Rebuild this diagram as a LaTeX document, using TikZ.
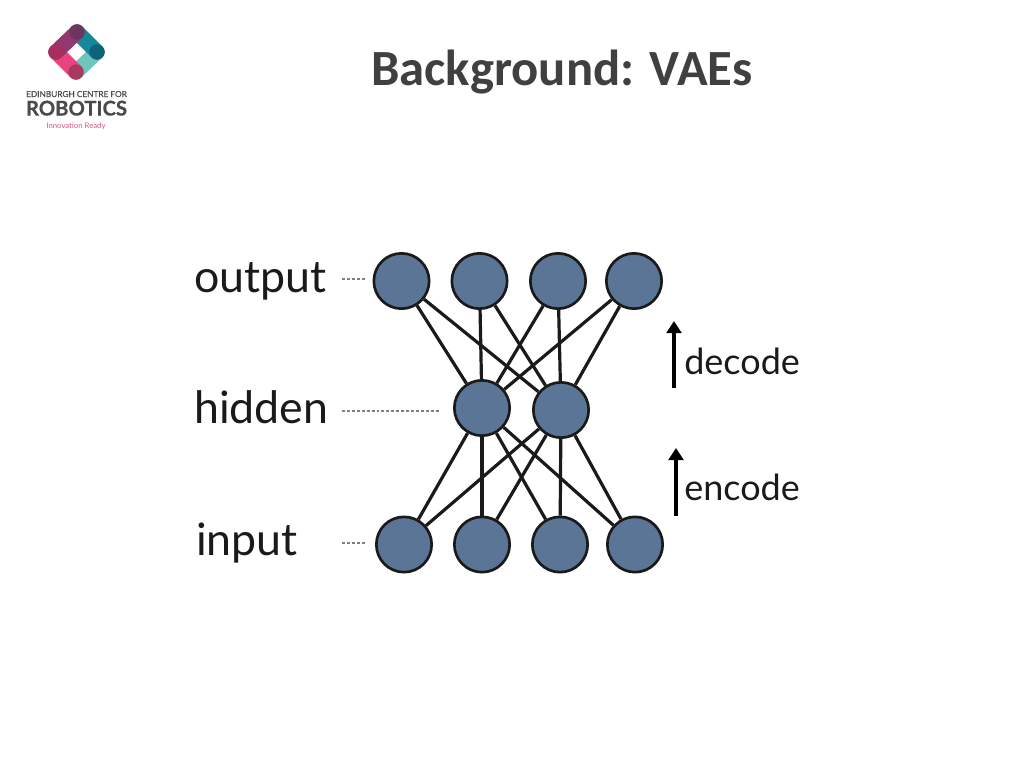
\documentclass[tikz,border=0pt]{standalone}
\usepackage{fontspec}
\setmainfont{Lato}
\newfontfamily\titlefont{Carlito}
\usetikzlibrary{arrows.meta,backgrounds}
\definecolor{nodeblue}{HTML}{5B7596}
\definecolor{inkdark}{HTML}{1A1A1A}
\definecolor{titlegrey}{HTML}{404040}
\definecolor{logogrey}{HTML}{4A4A4C}
\definecolor{logopink}{HTML}{D9558C}
\definecolor{bandteal}{HTML}{6FC6BC}
\definecolor{bandpink}{HTML}{E8447F}
\definecolor{bandblue}{HTML}{13899A}
\definecolor{bandplum}{HTML}{93386F}
\definecolor{jointt}{HTML}{6D3560}
\definecolor{jointl}{HTML}{A62E60}
\definecolor{jointr}{HTML}{0F6378}
\definecolor{jointb}{HTML}{A83A60}
\tikzset{
  x=0.75pt,y=-0.75pt,
  unit/.style={circle,draw=inkdark,line width=2pt,fill=nodeblue,minimum size=41.5pt,inner sep=0pt},
  edge/.style={draw=inkdark,line width=2.4pt},
  leader/.style={draw=gray,line width=0.8pt,dash pattern=on 2.2pt off 1.5pt},
  flow/.style={draw=black,line width=2.4pt,-{Triangle[length=9pt,width=11pt]}},
  lab/.style={text=inkdark,font=\fontsize{33.5}{34}\selectfont,inner sep=0pt,anchor=base west},
  band/.style={line width=11.5pt,line cap=round},
  joint/.style={circle,inner sep=0pt,minimum size=11.5pt},
}
\begin{document}
\begin{tikzpicture}
\useasboundingbox (0,0) rectangle (1024,768);
% title
\node[text=titlegrey,font=\titlefont\bfseries\fontsize{38}{38}\selectfont,inner sep=0pt,anchor=base west] (title) at (371,85) {Background: VAEs};
% logo
\coordinate (lt) at (77,32);
\coordinate (ll) at (56,52);
\coordinate (lr) at (97,52);
\coordinate (lb) at (76,72);
\draw[band,color=bandteal] (lr) -- (lb);
\draw[band,color=bandpink] (ll) -- (lb);
\draw[band,color=bandblue] (lt) -- (lr);
\draw[band,color=bandplum] (ll) -- (lt);
\node[joint,fill=jointt] (jt) at (lt) {};
\node[joint,fill=jointl] (jl) at (ll) {};
\node[joint,fill=jointr] (jr) at (lr) {};
\node[joint,fill=jointb] (jb) at (lb) {};
\node[text=logogrey,font=\addfontfeature{FakeBold=0.3}\fontsize{6.2}{7}\selectfont,inner sep=0pt,anchor=base] (l1) at (76.5,97) {EDINBURGH CENTRE FOR};
\node[text=logogrey,font=\bfseries\addfontfeature{FakeBold=0.6}\fontsize{15.2}{16}\selectfont,inner sep=0pt,anchor=base] (l2) at (76.5,115.5) {ROBOTICS};
\node[text=logopink,font=\fontsize{5.8}{6}\selectfont,inner sep=0pt,anchor=base] (l3) at (76,128) {Innovation Ready};
% units
\foreach \n/\x in {o1/401.5,o2/479.5,o3/558,o4/634}
  \node[unit] (\n) at (\x,281) {};
\node[unit] (h1) at (482,408) {};
\node[unit] (h2) at (561,410) {};
\foreach \n/\x in {i1/404,i2/482,i3/560,i4/635}
  \node[unit] (\n) at (\x,544.5) {};
% edges
\begin{scope}[on background layer]
\foreach \a in {o1,o2,o3,o4,i1,i2,i3,i4}
  \foreach \b in {h1,h2}
    \draw[edge] (\a) -- (\b);
\end{scope}
% labels
\node[lab] (output) at (194,292) {output};
\node[lab] (hidden) at (194,423) {hidden};
\node[lab] (input) at (196,555) {input};
\coordinate (loa) at (342,279);
\coordinate (lha) at (342,411);
\coordinate (lia) at (342,543);
\coordinate (lob) at (366,279);
\coordinate (lhb) at (440,411);
\coordinate (lib) at (366,543);
\draw[leader] (loa) -- (lob);
\draw[leader] (lha) -- (lhb);
\draw[leader] (lia) -- (lib);
% flow arrows
\coordinate (da) at (674,388);
\coordinate (db) at (674,321);
\coordinate (ea) at (676,516);
\coordinate (eb) at (676,448);
\draw[flow] (da) -- (db);
\draw[flow] (ea) -- (eb);
\node[lab,font=\fontsize{27}{27}\selectfont] (decode) at (684,374) {decode};
\node[lab,font=\fontsize{27}{27}\selectfont] (encode) at (684,500) {encode};
\end{tikzpicture}
\end{document}
